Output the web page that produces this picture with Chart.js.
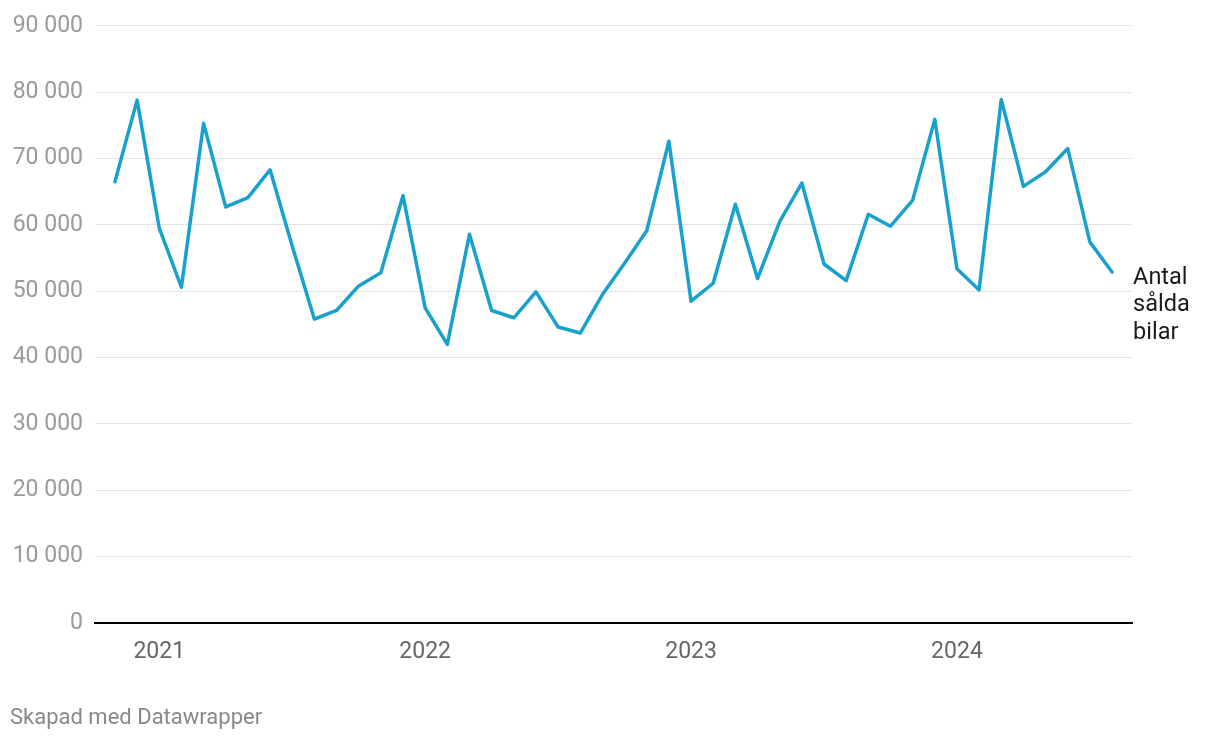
<!DOCTYPE html>
<html>
<head>
<meta charset="utf-8">
<script src="https://cdn.jsdelivr.net/npm/chart.js@4/dist/chart.umd.min.js"></script>
<style>
  html, body { margin: 0; padding: 0; background: #fff; }
  #wrap { position: relative; width: 1220px; height: 740px; }
  #footer { position: absolute; left: 10px; top: 703px; font-family: Roboto, sans-serif; font-size: 22px; color: #888; line-height: 28px; }
</style>
</head>
<body>
<div id="wrap">
  <canvas id="c" width="1220" height="740"></canvas>
  <div id="footer">Skapad med Datawrapper</div>
</div>
<script>
// Months from Nov 2020 to Aug 2024
const months = ["2020-11","2020-12",
  "2021-01","2021-02","2021-03","2021-04","2021-05","2021-06","2021-07","2021-08","2021-09","2021-10","2021-11","2021-12",
  "2022-01","2022-02","2022-03","2022-04","2022-05","2022-06","2022-07","2022-08","2022-09","2022-10","2022-11","2022-12",
  "2023-01","2023-02","2023-03","2023-04","2023-05","2023-06","2023-07","2023-08","2023-09","2023-10","2023-11","2023-12",
  "2024-01","2024-02","2024-03","2024-04","2024-05","2024-06","2024-07","2024-08"];
const soldCars = [66500, 78800,
  59500, 50600, 75300, 62700, 64100, 68300, 56800, 45800, 47100, 50800, 52800, 64400,
  47500, 42000, 58600, 47100, 46000, 49900, 44600, 43700, 49500, 54200, 59100, 72600,
  48500, 51200, 63100, 51900, 60500, 66300, 54100, 51600, 61600, 59800, 63700, 75900,
  53400, 50200, 78900, 65800, 68000, 71500, 57400, 52900];
const seriesLabel = ["Antal", "sålda", "bilar"];
const yearTicks = ["2021", "2022", "2023", "2024"];
const yTickValues = [0, 10000, 20000, 30000, 40000, 50000, 60000, 70000, 80000, 90000];

const yearIndex = yearTicks.map(y => months.indexOf(y + "-01"));
const points = soldCars.map((v, i) => ({ x: i, y: v }));

function fmt(v) {
  return String(v).replace(/\B(?=(\d{3})+(?!\d))/g, " ");
}

const endLabel = {
  id: 'endLabel',
  afterDatasetsDraw(chart) {
    const meta = chart.getDatasetMeta(0);
    const last = meta.data[meta.data.length - 1];
    const ctx = chart.ctx;
    ctx.save();
    ctx.font = '23.5px Roboto, sans-serif';
    ctx.fillStyle = '#1a1a1a';
    ctx.textBaseline = 'middle';
    ctx.textAlign = 'left';
    seriesLabel.forEach((t, k) => ctx.fillText(t, last.x + 21, last.y + 6 + k * 27.5));
    ctx.restore();
  }
};

new Chart(document.getElementById('c'), {
  type: 'line',
  data: {
    datasets: [{
      data: points,
      borderColor: '#18a1cd',
      borderWidth: 3.5,
      borderJoinStyle: 'round',
      borderCapStyle: 'round',
      pointRadius: 0,
      tension: 0,
      fill: false
    }]
  },
  options: {
    responsive: false,
    animation: false,
    layout: { padding: { top: 23, right: 88, bottom: 67, left: 0 } },
    plugins: { legend: { display: false }, tooltip: { enabled: false } },
    scales: {
      x: {
        type: 'linear',
        min: -0.9,
        max: soldCars.length - 0.1,
        afterBuildTicks(scale) { scale.ticks = yearIndex.map(v => ({ value: v })); },
        afterFit(scale) { scale.height = 50; },
        grid: { display: false, drawTicks: false },
        border: { display: true, color: '#000', width: 2 },
        ticks: {
          padding: 15,
          color: '#666',
          font: { family: 'Roboto', size: 23 },
          maxRotation: 0,
          autoSkip: false,
          callback(v) { const k = yearIndex.indexOf(v); return k >= 0 ? yearTicks[k] : ''; }
        }
      },
      y: {
        min: 0,
        max: 90000,
        afterBuildTicks(scale) { scale.ticks = yTickValues.map(v => ({ value: v })); },
        afterFit(scale) { scale.width = 95; },
        grid: { color: '#e3e3e3', lineWidth: 1, drawTicks: false },
        border: { display: false },
        ticks: {
          padding: 12,
          color: '#9a9a9a',
          font: { family: 'Roboto', size: 23 },
          callback(v) { return fmt(v); }
        }
      }
    }
  },
  plugins: [endLabel]
});
</script>
</body>
</html>
